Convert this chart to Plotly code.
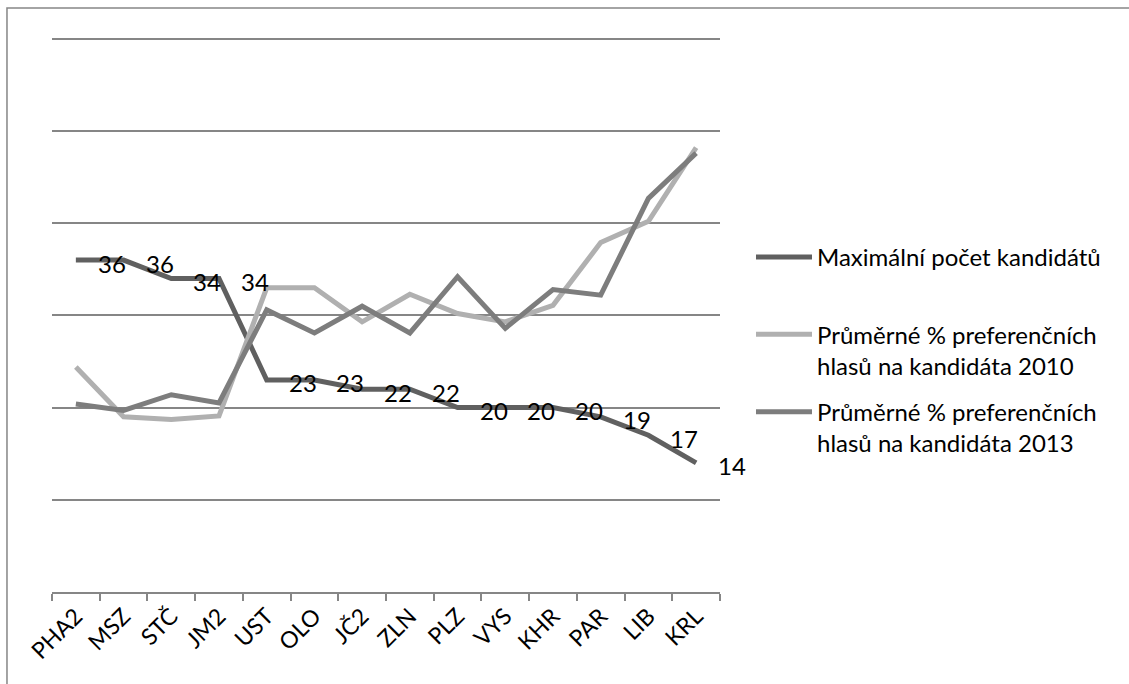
import plotly.graph_objects as go

categories = ["PHA2", "MSZ", "STČ", "JM2", "UST", "OLO", "JČ2", "ZLN", "PLZ", "VYS", "KHR", "PAR", "LIB", "KRL"]
max_kandidatu = [36, 36, 34, 34, 23, 23, 22, 22, 20, 20, 20, 19, 17, 14]
pref_2010 = [24.4, 19.0, 18.7, 19.1, 33.0, 33.0, 29.3, 32.3, 30.2, 29.3, 31.1, 37.9, 40.2, 48.2]
pref_2013 = [20.4, 19.7, 21.4, 20.5, 30.6, 28.1, 31.0, 28.1, 34.2, 28.6, 32.8, 32.2, 42.7, 47.6]

names = [
    "Maximální počet kandidátů<br> ",
    "Průměrné % preferenčních<br>hlasů na kandidáta 2010",
    "Průměrné % preferenčních<br>hlasů na kandidáta 2013",
]
colors = ["#606060", "#b0b0b0", "#7d7d7d"]
FONT = "Lato"

fig = go.Figure()
for i, (name, vals, col) in enumerate(zip(names, [max_kandidatu, pref_2010, pref_2013], colors)):
    fig.add_trace(go.Scatter(
        x=categories, y=vals, name=name, mode="lines",
        line=dict(color=col, width=5), legendgroup=str(i),
    ))

for c, v in zip(categories, max_kandidatu):
    fig.add_annotation(x=c, y=v, text=str(v), showarrow=False,
                       xshift=36, yshift=-3,
                       font=dict(family=FONT, size=24, color="#000000"))

fig.add_shape(type="rect", xref="paper", yref="paper",
              x0=-0.0674, x1=1.7, y0=-0.2, y1=1.0524,
              line=dict(color="#868686", width=1.5), fillcolor="rgba(0,0,0,0)")

fig.update_layout(
    width=1129, height=684,
    margin=dict(l=52, r=409, t=37, b=92, pad=0, autoexpand=False),
    paper_bgcolor="white", plot_bgcolor="white",
    font=dict(family=FONT, size=24, color="#000000"),
    showlegend=True,
    legend=dict(x=1.0464, y=0.6436, xanchor="left", yanchor="top",
                valign="top", tracegroupgap=12, itemwidth=56,
                font=dict(family=FONT, size=24, color="#000000"),
                traceorder="grouped"),
    xaxis=dict(type="category", showline=True, linecolor="#868686", linewidth=1.5,
               ticks="outside", ticklen=7, tickcolor="#868686", tickwidth=1.5,
               tickson="boundaries", tickangle=-45, showgrid=False,
               tickfont=dict(family=FONT, size=23, color="#000000"),
               range=[-0.5, 13.5]),
    yaxis=dict(range=[0, 60.2], dtick=10, showgrid=True, gridcolor="#868686", gridwidth=1.5,
               showticklabels=False, zeroline=False, showline=False),
)

fig.write_html("out.html", config={"displayModeBar": False},
               post_script="document.body.style.margin='0px';")
